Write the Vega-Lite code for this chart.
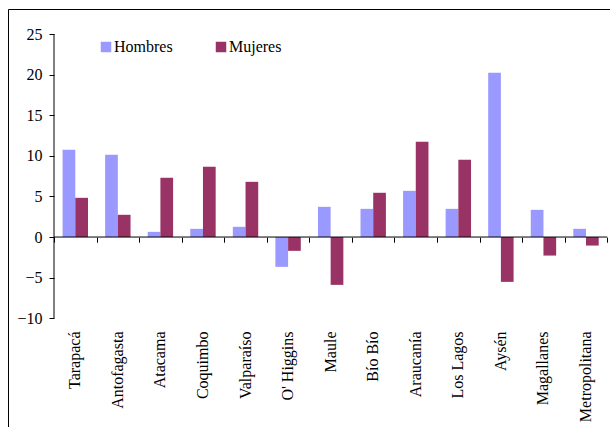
{
  "$schema": "https://vega.github.io/schema/vega-lite/v6.json",
  "width": 605,
  "height": 421,
  "autosize": {"type": "none"},
  "padding": {"left": 8, "top": 9, "right": -3, "bottom": -3},
  "background": "white",
  "config": {
    "font": "'Liberation Serif', 'DejaVu Serif', serif",
    "view": {"stroke": "black", "strokeWidth": 1},
    "axis": {"labelFont": "'Liberation Serif', 'DejaVu Serif', serif", "labelColor": "black", "labelFontSize": 16, "tickColor": "black", "grid": false, "title": null},
    "legend": {"labelFont": "'Liberation Serif', 'DejaVu Serif', serif"}
  },
  "data": {
    "values": [
      {"region": "Tarapacá", "sexo": "Hombres", "valor": 10.75},
      {"region": "Tarapacá", "sexo": "Mujeres", "valor": 4.83},
      {"region": "Antofagasta", "sexo": "Hombres", "valor": 10.13},
      {"region": "Antofagasta", "sexo": "Mujeres", "valor": 2.74},
      {"region": "Atacama", "sexo": "Hombres", "valor": 0.64},
      {"region": "Atacama", "sexo": "Mujeres", "valor": 7.3},
      {"region": "Coquimbo", "sexo": "Hombres", "valor": 1.01},
      {"region": "Coquimbo", "sexo": "Mujeres", "valor": 8.65},
      {"region": "Valparaíso", "sexo": "Hombres", "valor": 1.26},
      {"region": "Valparaíso", "sexo": "Mujeres", "valor": 6.8},
      {"region": "O' Higgins", "sexo": "Hombres", "valor": -3.67},
      {"region": "O' Higgins", "sexo": "Mujeres", "valor": -1.7},
      {"region": "Maule", "sexo": "Hombres", "valor": 3.72},
      {"region": "Maule", "sexo": "Mujeres", "valor": -5.89},
      {"region": "Bío Bío", "sexo": "Hombres", "valor": 3.47},
      {"region": "Bío Bío", "sexo": "Mujeres", "valor": 5.45},
      {"region": "Araucanía", "sexo": "Hombres", "valor": 5.69},
      {"region": "Araucanía", "sexo": "Mujeres", "valor": 11.73},
      {"region": "Los Lagos", "sexo": "Hombres", "valor": 3.47},
      {"region": "Los Lagos", "sexo": "Mujeres", "valor": 9.51},
      {"region": "Aysén", "sexo": "Hombres", "valor": 20.24},
      {"region": "Aysén", "sexo": "Mujeres", "valor": -5.52},
      {"region": "Magallanes", "sexo": "Hombres", "valor": 3.35},
      {"region": "Magallanes", "sexo": "Mujeres", "valor": -2.28},
      {"region": "Metropolitana", "sexo": "Hombres", "valor": 1.01},
      {"region": "Metropolitana", "sexo": "Mujeres", "valor": -1.05}
    ]
  },
  "layer": [
    {
      "mark": {"type": "bar"},
      "encoding": {
        "x": {
          "field": "region",
          "type": "nominal",
          "scale": {
            "domain": ["Tarapacá", "Antofagasta", "Atacama", "Coquimbo", "Valparaíso", "O' Higgins", "Maule", "Bío Bío", "Araucanía", "Los Lagos", "Aysén", "Magallanes", "Metropolitana"],
            "paddingInner": 0,
            "paddingOuter": 0.6074,
            "align": 0.8897
          },
          "axis": {"orient": "bottom", "offset": -101, "ticks": false, "domain": false, "labelAngle": -90, "labelPadding": 2}
        },
        "xOffset": {
          "field": "sexo",
          "type": "nominal",
          "sort": ["Hombres", "Mujeres"],
          "scale": {"paddingInner": 0, "paddingOuter": 0.6756}
        },
        "y": {
          "field": "valor",
          "type": "quantitative",
          "scale": {"domain": [-23.76, 28.08], "nice": false, "zero": false},
          "axis": {"orient": "left", "offset": -46, "values": [-10, -5, 0, 5, 10, 15, 20, 25], "domain": false, "tickSize": 5, "labelPadding": 7}
        },
        "color": {
          "field": "sexo",
          "type": "nominal",
          "scale": {"domain": ["Hombres", "Mujeres"], "range": ["#9999FF", "#993366"]},
          "legend": {
            "orient": "none",
            "legendX": 90,
            "legendY": 30,
            "direction": "horizontal",
            "title": null,
            "symbolType": "square",
            "symbolSize": 110,
            "symbolStrokeWidth": 0,
            "symbolOpacity": 1,
            "labelFontSize": 16,
            "labelColor": "black",
            "labelOffset": 0,
            "columnPadding": 40,
            "padding": 0
          }
        }
      }
    },
    {
      "data": {"values": [{"n": 1}]},
      "mark": {"type": "rule", "color": "black", "strokeWidth": 1},
      "encoding": {
        "x": {
          "datum": "Tarapacá",
          "type": "nominal",
          "bandPosition": 0,
          "axis": {"orient": "top", "offset": -228.2, "labels": false, "domain": false, "ticks": true, "tickBand": "extent", "tickSize": -5}
        },
        "x2": {"datum": "Metropolitana", "bandPosition": 1},
        "y": {"datum": 0, "type": "quantitative"}
      }
    },
    {
      "data": {"values": [{"n": 1}]},
      "mark": {"type": "rule", "color": "black", "strokeWidth": 1},
      "encoding": {
        "x": {"datum": "Tarapacá", "type": "nominal", "bandPosition": 0, "axis": null},
        "y": {"datum": -10, "type": "quantitative"},
        "y2": {"datum": 25}
      }
    }
  ],
  "resolve": {"axis": {"x": "independent"}}
}
